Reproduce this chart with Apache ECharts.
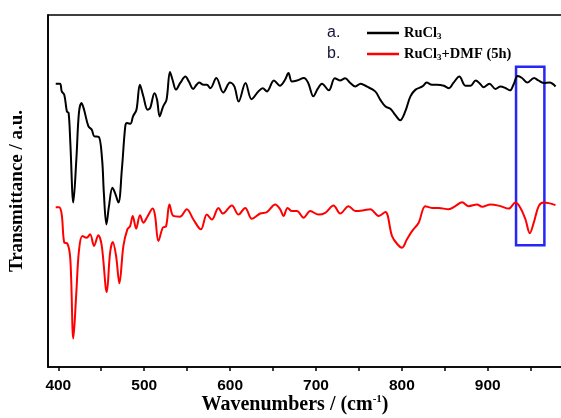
<!DOCTYPE html>
<html>
<head>
<meta charset="utf-8">
<script src="https://cdn.jsdelivr.net/npm/echarts@6/dist/echarts.min.js"></script>
<style>html,body{margin:0;padding:0;background:#fff;}#c{width:561px;height:418px;}</style>
</head>
<body>
<div id="c"></div>
<script>
// Wavenumber (cm^-1) tick values and labels
const tickValues = [400, 450, 500, 550, 600, 650, 700, 750, 800, 850, 900, 950];
const labelValues = [400, 500, 600, 700, 800, 900];
const seriesNames = ['RuCl3', 'RuCl3+DMF (5h)'];

// a. RuCl3 : [wavenumber, transmittance (a.u.)]
const ruCl3 = [[397,80.5],[402,80.5],[404,78.3],[407,77.3],[410,72.6],[412,72.2],[414,63.7],[417.5,46.7],[421,58.9],[424,72.2],[427,75.0],[430,73.1],[435,68.4],[439,67.4],[442,65.5],[447,65.4],[451,58.9],[453,49.6],[456,40.5],[459,45.7],[463,50.9],[466,49.5],[470,46.7],[474,56.1],[478,68.4],[480,69.3],[484,69.1],[487,71.2],[491,73.1],[495,80.2],[499,76.9],[504,73.1],[507,73.6],[512,77.8],[515,75.9],[518,71.2],[522,74.0],[526,75.9],[530,83.8],[533,81.6],[537,78.8],[542,80.7],[548,82.5],[552,81.1],[557,79.0],[561,80.2],[564,80.8],[569,80.2],[573,80.2],[577,79.2],[584,82.1],[592,78.0],[600,80.8],[605,79.7],[610,75.4],[618,80.7],[625,76.1],[633,78.3],[638,79.2],[643,78.3],[651,81.4],[658,79.9],[664,81.6],[668,83.5],[672,81.1],[678,81.4],[686,82.1],[691,80.7],[697,76.9],[702,79.0],[707,80.5],[715,78.6],[722,82.0],[728,81.4],[734,82.0],[740,80.7],[746,79.7],[752,80.5],[759,79.7],[769,78.3],[775,75.9],[781,74.0],[787,73.3],[792,71.7],[798,70.1],[804,72.6],[810,76.9],[816,78.8],[824,79.7],[829,80.8],[835,80.2],[841,80.2],[849,79.9],[855,79.2],[860,80.7],[867,82.5],[874,79.9],[880,79.9],[886,81.4],[891,80.5],[895,79.5],[902,80.5],[909,79.0],[915,79.7],[921,79.2],[926,78.6],[930,80.2],[935,82.7],[940,82.1],[946,80.8],[954,82.1],[959,81.4],[965,80.7],[972,80.8],[979,79.7]];

// b. RuCl3 + DMF (5h)
const ruCl3Dmf = [[397,45.4],[401,45.4],[404,43.3],[407,35.3],[410.5,35.1],[414,30.6],[417.5,8.1],[421,21.2],[424,32.9],[428,37.2],[433,36.7],[437,37.7],[441.6,34.4],[446.6,37.4],[450.6,34.4],[456.4,21.3],[460.3,32.5],[463.4,35.5],[467.3,31.5],[471.1,23.8],[475.8,34.4],[480.4,39.1],[483.6,40.0],[486.7,42.9],[490.6,39.3],[495.2,43.1],[499.1,41.0],[503.7,42.7],[510,45.0],[512.7,42.9],[516.6,35.8],[521.7,39.6],[525.5,40.0],[529.4,46.2],[534,42.9],[541.8,42.7],[549.6,44.8],[557.3,41.9],[566,39.1],[573,43.3],[578.8,41.9],[586.5,45.2],[591.6,43.6],[602.1,45.9],[609.8,43.3],[617.6,45.2],[625.4,42.1],[635.1,43.6],[642.9,44.0],[652.6,46.2],[658.4,44.8],[662.2,42.9],[667,45.2],[672,44.3],[677.9,44.3],[685.6,42.4],[693.4,44.3],[703,43.3],[710.8,43.8],[720.5,45.9],[728.3,43.6],[738,45.7],[745.8,44.3],[755.5,44.5],[763.3,44.8],[773,42.9],[780.8,44.0],[788.6,37.2],[795.1,34.8],[800.2,33.9],[806,36.3],[811.9,38.6],[819.6,41.0],[827.4,45.7],[835.2,45.2],[842.9,45.2],[854.5,44.8],[862.3,45.7],[870.2,46.8],[877.9,45.7],[887.7,46.2],[893.5,45.5],[903.2,46.2],[914.8,45.7],[924.5,45.0],[932.3,46.7],[938.1,45.2],[944,41.9],[949,38.0],[953.6,41.0],[959.4,45.7],[965.3,46.7],[978.9,46.0]];

// Highlight box (wavenumber range, transmittance range)
const boxX = [933, 966];
const boxY = [34.6, 85.3];

const chart = echarts.init(document.getElementById('c'), null, {renderer: 'canvas'});
const serif = '"Liberation Serif", "Times New Roman", serif';
const sans = '"Liberation Sans", Arial, sans-serif';

chart.setOption({
  animation: false,
  backgroundColor: '#fff',
  grid: {left: 48, top: 15, bottom: 51, right: -4, outerBoundsMode: 'none', containLabel: false,
         show: true, borderColor: '#000', borderWidth: 1.6, backgroundColor: 'transparent'},
  legend: {
    orient: 'vertical', left: 362, top: 20, itemGap: 5, itemWidth: 32, itemHeight: 2.5,
    icon: 'rect', selectedMode: false,
    data: seriesNames,
    formatter: function (n) {
      return n === seriesNames[0] ? '{b|RuCl}{s|3}' : '{b|RuCl}{s|3}{b|+DMF (5h)}';
    },
    textStyle: {
      rich: {
        b: {fontFamily: serif, fontWeight: 'bold', fontSize: 14.5, color: '#000', lineHeight: 15},
        s: {fontFamily: serif, fontWeight: 'bold', fontSize: 9, color: '#000', padding: [7, 0, 0, 0], lineHeight: 15}
      }
    }
  },
  graphic: [
    {type: 'text', left: 327, top: 25, style: {text: 'a.', font: '16px ' + sans, fill: '#15153a'}},
    {type: 'text', left: 327, top: 46, style: {text: 'b.', font: '16px ' + sans, fill: '#15153a'}}
  ],
  xAxis: {
    type: 'value', min: 388, max: 990,
    name: '{t|Wavenumbers / (cm}{sup|-1}{t|)}',
    nameLocation: 'middle', nameGap: 27, nameMoveOverlap: false,
    nameTextStyle: {
      padding: [0, 23, 0, 0],
      rich: {
        t: {fontFamily: serif, fontWeight: 'bold', fontSize: 20, color: '#000'},
        sup: {fontFamily: serif, fontWeight: 'bold', fontSize: 11, color: '#000', padding: [0, 0, 10, 0]}
      }
    },
    axisLine: {show: true, lineStyle: {color: '#000', width: 1.6}},
    axisTick: {show: true, length: 4, inside: false, customValues: tickValues, lineStyle: {color: '#000', width: 1.5}},
    axisLabel: {customValues: labelValues, margin: 11, fontFamily: sans, fontWeight: 'bold', fontSize: 15.5, color: '#000'},
    splitLine: {show: false}
  },
  yAxis: {
    type: 'value', min: 0, max: 100,
    name: 'Transmittance / a.u.', nameLocation: 'middle', nameGap: 21, nameRotate: 90, nameMoveOverlap: false,
    nameTextStyle: {fontFamily: serif, fontWeight: 'bold', fontSize: 19, color: '#000'},
    axisLine: {show: true, lineStyle: {color: '#000', width: 1.6}},
    axisTick: {show: false}, axisLabel: {show: false}, splitLine: {show: false}
  },
  series: [
    {name: seriesNames[0], type: 'line', data: ruCl3, showSymbol: false, smooth: 0.35,
     lineStyle: {color: '#000', width: 2}, itemStyle: {color: '#000'}},
    {name: seriesNames[1], type: 'line', data: ruCl3Dmf, showSymbol: false, smooth: 0.35,
     lineStyle: {color: '#ff0000', width: 2}, itemStyle: {color: '#ff0000'},
     markArea: {silent: true, itemStyle: {color: 'rgba(0,0,0,0)', borderColor: '#2626f5', borderWidth: 2.5},
       data: [[{coord: [boxX[0], boxY[0]]}, {coord: [boxX[1], boxY[1]]}]]}}
  ]
});
</script>
</body>
</html>
